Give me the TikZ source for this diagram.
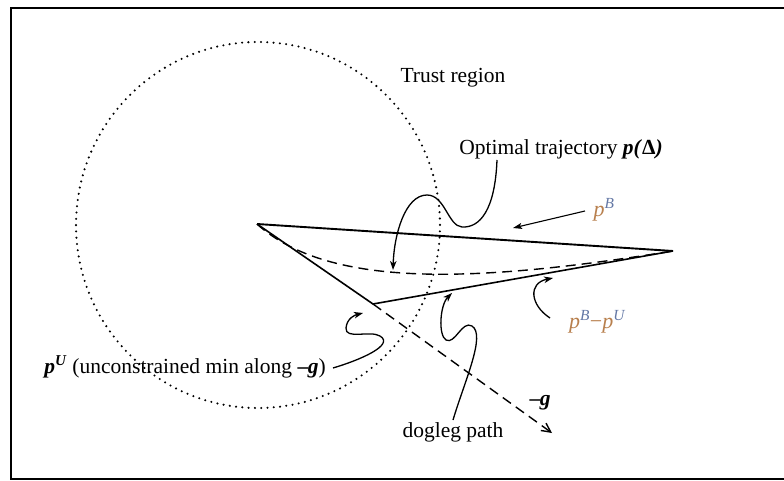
\documentclass[tikz,border=0pt]{standalone}
\usepackage{fontspec}
\setmainfont{Liberation Serif}
\usetikzlibrary{arrows.meta}
\definecolor{pcol}{RGB}{184,128,78}
\definecolor{scol}{RGB}{100,120,165}
\begin{document}
\begin{tikzpicture}[x=1pt,y=-1pt,
  lbl/.style={inner sep=0pt, font=\fontsize{21.5}{24}\selectfont},
  plbl/.style={inner sep=0pt, font=\fontsize{22}{24}\selectfont},
  edgeline/.style={line width=2pt},
  mainline/.style={line width=1.9pt},
  dashline/.style={line width=1.4pt, dash pattern=on 10pt off 6pt},
  dotcirc/.style={line width=2.3pt, dash pattern=on 0pt off 6.3pt, line cap=round},
  wavy/.style={line width=1.3pt, -{Stealth[length=9pt,width=6.5pt,inset=2.5pt]}},
  ptr/.style={line width=1.1pt, -{Stealth[length=9pt,width=6pt,inset=2pt]}}]
\useasboundingbox (0,0) rectangle (784,481);
% frame
\draw[edgeline] (784,8) -- (11,8) -- (11,479) -- (784,479);
% trust region circle
\draw[dotcirc] (258,225) ellipse [x radius=182, y radius=183];
% vertices
\coordinate (A) at (257,224);
\coordinate (pB) at (673,251);
\coordinate (pU) at (373,304);
\coordinate (gtip) at (552,433);
% triangle
\draw[mainline] (A) -- (pB);
\draw[mainline, line width=1.6pt] (A) -- (pU) -- (pB);
% -g direction
\draw[dashline, -{Straight Barb[length=9pt,width=9pt]}] (pU) -- (gtip);
% optimal trajectory
\draw[dashline] (A) .. controls (330,290) and (480,282) .. (pB);
% labels
\node[lbl, anchor=base] (trust) at (453,83) {Trust region};
\node[lbl, anchor=base] (opt) at (561,155) {Optimal trajectory \textbf{\textit{p(}Δ\textit{)}}};
\node[lbl, anchor=base] (pUlbl) at (185,373) {\textbf{\textit{p}}\textsuperscript{\textbf{\textit{U}}} (unconstrained min along \textbf{–\kern-0.5pt\textit{g}})};
\node[lbl] (glbl) at (540,403) {\textbf{–\kern-0.5pt\textit{g}}};
\node[lbl] (dog) at (453,432) {dogleg path};
\node[plbl] (pBlbl) at (604,210) {{\color{pcol}\itshape p}\textsuperscript{\color{scol}\itshape B}};
\node[plbl] (diff) at (597,322) {{\color{pcol}\itshape p}\textsuperscript{\color{scol}\itshape B}{\color{pcol}−}{\color{pcol}\itshape p}\textsuperscript{\color{scol}\itshape U}};
% pointer coordinates
\coordinate (optS) at (497,160);
\coordinate (optT) at (393,270);
\coordinate (pBS) at (585,211);
\coordinate (pBT) at (513,228);
\coordinate (diffS) at (550,318);
\coordinate (diffT) at (553,278);
\coordinate (dogS) at (453,420);
\coordinate (dogT) at (452,293);
\coordinate (pUS) at (333,368);
\coordinate (pUT) at (363,313);
% wavy pointers
\draw[wavy] (optS) .. controls (495,210) and (480,228) .. (462,227)
  .. controls (448,226) and (445,195) .. (427,195)
  .. controls (405,195) and (394,235) .. (optT);
\draw[ptr] (pBS) -- (pBT);
\draw[wavy] (diffS) .. controls (530,305) and (528,283) .. (diffT);
\draw[wavy] (dogS) .. controls (465,380) and (486,335) .. (472,326)
  .. controls (462,320) and (455,345) .. (446,340)
  .. controls (438,335) and (440,305) .. (dogT);
\draw[wavy] (pUS) .. controls (360,360) and (395,345) .. (380,336)
  .. controls (370,330) and (345,340) .. (346,328)
  .. controls (347,318) and (355,315) .. (pUT);
\end{tikzpicture}
\end{document}
